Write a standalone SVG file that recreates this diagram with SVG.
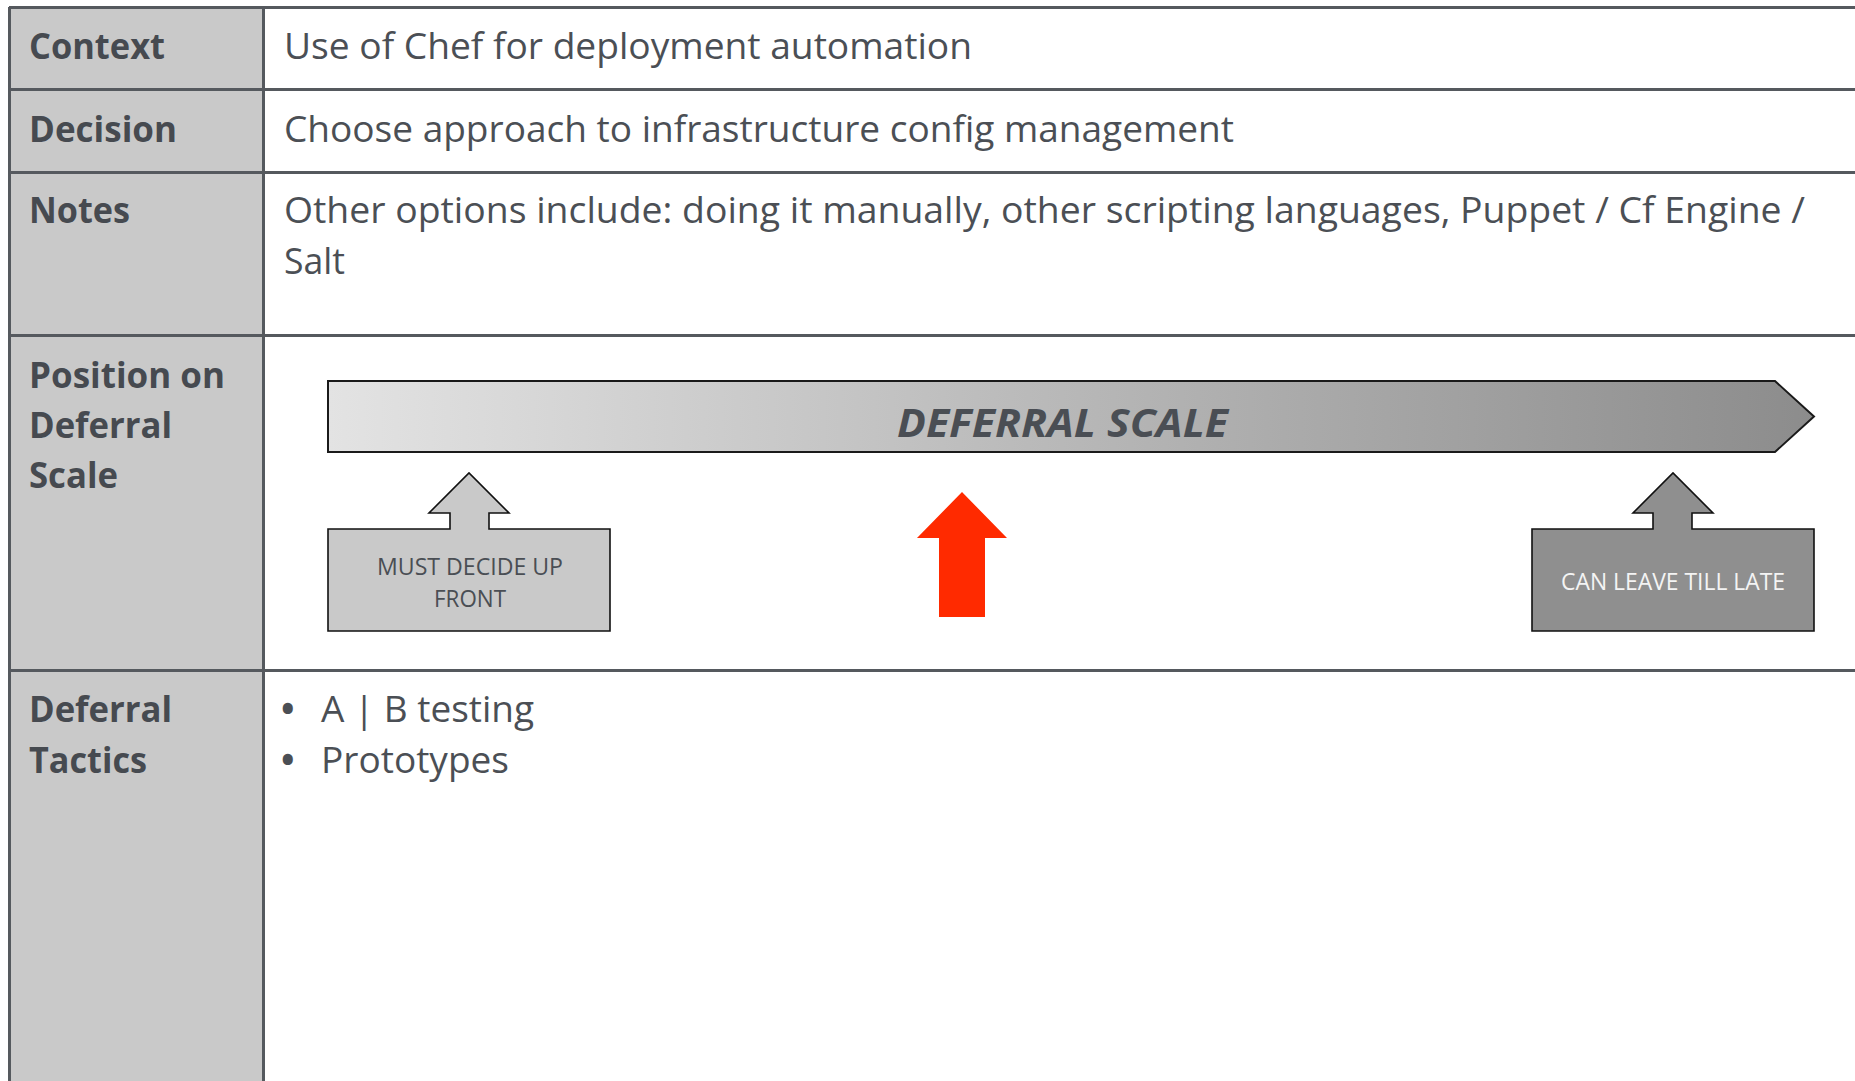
<svg xmlns="http://www.w3.org/2000/svg" width="1855" height="1081" viewBox="0 0 1855 1081">
<style>
.lbl{font-family:"Open Sans","Noto Sans",sans-serif;font-weight:bold;font-size:36px;fill:#464a50}
.txt{font-family:"Open Sans","Noto Sans",sans-serif;font-size:36px;fill:#4b4f55}
.bul{font-family:"Open Sans","Noto Sans",sans-serif;font-weight:bold;font-size:36px;fill:#4b4f55}
.small{font-family:"Open Sans","Noto Sans",sans-serif;font-size:23px;text-anchor:middle}
.grid{stroke:#55595e;stroke-width:3;fill:none}
.callout{stroke:#111;stroke-width:1.6}
</style>
<defs>
<linearGradient id="barGrad" x1="0" y1="0" x2="1" y2="0">
<stop offset="0" stop-color="#e3e3e3"/>
<stop offset="1" stop-color="#8c8c8c"/>
</linearGradient>
</defs>
<rect width="1855" height="1081" fill="#fff"/>
<g id="table">
<rect x="9" y="7" width="254" height="1074" fill="#c9c9c9"/>
<path class="grid" d="M9,7.5 H1855 M9,89.5 H1855 M9,172.5 H1855 M9,335.5 H1855 M9,670.5 H1855 M9.5,7 V1081 M263.5,7 V1081"/>
</g>
<g id="row-context">
<text class="lbl" x="29" y="59" textLength="136" lengthAdjust="spacingAndGlyphs">Context</text>
<text class="txt" x="284" y="59" textLength="688" lengthAdjust="spacingAndGlyphs">Use of Chef for deployment automation</text>
</g>
<g id="row-decision">
<text class="lbl" x="29" y="142" textLength="148" lengthAdjust="spacingAndGlyphs">Decision</text>
<text class="txt" x="284" y="142" textLength="950" lengthAdjust="spacingAndGlyphs">Choose approach to infrastructure config management</text>
</g>
<g id="row-notes">
<text class="lbl" x="29" y="223" textLength="101" lengthAdjust="spacingAndGlyphs">Notes</text>
<text class="txt" x="284" y="223" textLength="1521" lengthAdjust="spacingAndGlyphs">Other options include: doing it manually, other scripting languages, Puppet / Cf Engine /</text>
<text class="txt" x="284" y="274" textLength="61" lengthAdjust="spacingAndGlyphs">Salt</text>
</g>
<g id="row-position">
<text class="lbl" x="29" y="388" textLength="196" lengthAdjust="spacingAndGlyphs">Position on</text>
<text class="lbl" x="29" y="438" textLength="143" lengthAdjust="spacingAndGlyphs">Deferral</text>
<text class="lbl" x="29" y="488" textLength="89" lengthAdjust="spacingAndGlyphs">Scale</text>
</g>
<g id="deferral-scale">
<path d="M328,381 H1775 L1814,416.5 L1775,452 H328 Z" fill="url(#barGrad)" stroke="#1a1a1a" stroke-width="2"/>
<text x="897" y="437" textLength="331" lengthAdjust="spacingAndGlyphs" style="font-family:'Open Sans','Noto Sans',sans-serif;font-weight:bold;font-style:italic;font-size:39px;fill:#4a4e54">DEFERRAL SCALE</text>
</g>
<g id="must-decide">
<path class="callout" d="M328,529 H450 V513 H429 L469,473 L509,513 H489 V529 H610 V631 H328 Z" fill="#c9c9c9"/>
<text class="small" x="470" y="575" fill="#4a4e54" textLength="186" lengthAdjust="spacingAndGlyphs">MUST DECIDE UP</text>
<text class="small" x="470" y="607" fill="#4a4e54" textLength="72" lengthAdjust="spacingAndGlyphs">FRONT</text>
</g>
<g id="current-position">
<path d="M962,492 L1007,538 H985 V617 H939 V538 H917 Z" fill="#ff2a00"/>
</g>
<g id="can-leave">
<path class="callout" d="M1532,529 H1653 V513 H1633 L1673,473 L1713,513 H1692 V529 H1814 V631 H1532 Z" fill="#8f8f8f"/>
<text class="small" x="1673" y="590" fill="#f4f4f4" textLength="224" lengthAdjust="spacingAndGlyphs">CAN LEAVE TILL LATE</text>
</g>
<g id="row-tactics">
<text class="lbl" x="29" y="722" textLength="143" lengthAdjust="spacingAndGlyphs">Deferral</text>
<text class="lbl" x="29" y="773" textLength="118" lengthAdjust="spacingAndGlyphs">Tactics</text>
<text class="bul" x="281" y="722">•</text>
<text class="txt" x="321" y="722" textLength="213" lengthAdjust="spacingAndGlyphs">A | B testing</text>
<text class="bul" x="281" y="773">•</text>
<text class="txt" x="321" y="773" textLength="188" lengthAdjust="spacingAndGlyphs">Prototypes</text>
</g>
<g id="connectors"></g>
</svg>
